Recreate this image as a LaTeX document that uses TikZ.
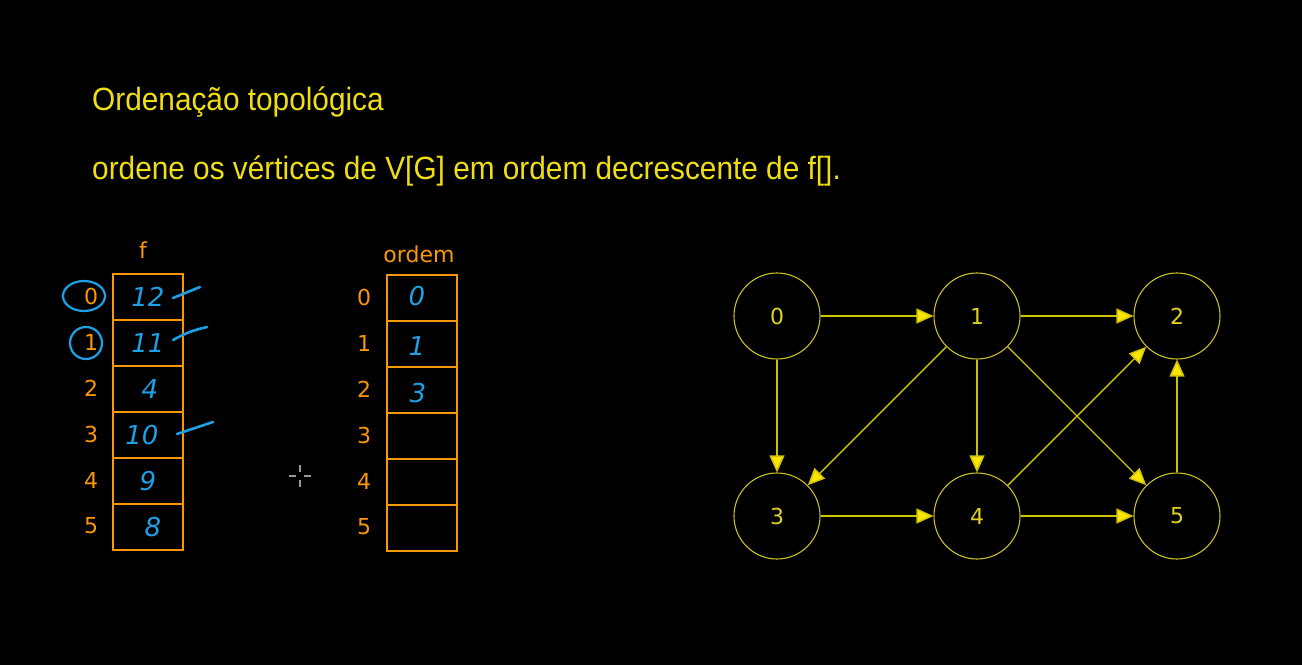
\documentclass[tikz,border=0pt]{standalone}
\usepackage{fontspec}
\setmainfont{Liberation Sans}
\newfontfamily\djv{DejaVu Sans}
\usetikzlibrary{arrows.meta}
\definecolor{titley}{RGB}{240,222,20}
\definecolor{orng}{RGB}{250,150,10}
\definecolor{pen}{RGB}{30,160,230}
\definecolor{gline}{RGB}{205,195,10}
\definecolor{gcirc}{RGB}{200,190,40}
\definecolor{gtip}{RGB}{250,228,0}
\definecolor{gtext}{RGB}{225,210,30}
\newcommand{\tallline}[1]{\scalebox{1}[1.08]{#1}}
\begin{document}
\begin{tikzpicture}[x=1pt,y=-1pt,
  title/.style={anchor=base west,text=titley,font=\fontsize{29.8}{30}\selectfont,inner sep=0},
  cell/.style={draw=orng,line width=1.6pt,minimum width=70pt,minimum height=46pt,inner sep=0,anchor=north west},
  idx/.style={text=orng,font=\djv\fontsize{22}{22}\selectfont,inner sep=0},
  hand/.style={text=pen,font=\djv\itshape\fontsize{26}{26}\selectfont,inner sep=0},
  stroke/.style={draw=pen,line width=2.6pt,line cap=round},
  vert/.style={circle,draw=gcirc,line width=1.1pt,minimum size=86pt,inner sep=0,text=gtext,font=\djv\fontsize{22}{22}\selectfont},
  edge/.style={draw=gline,line width=1.4pt,-{Triangle[length=17pt,width=15pt,fill=gtip]}},
  cursor/.style={draw=gray!80,line width=1.5pt}]
\fill[black] (0,0) rectangle (1302,665);
\useasboundingbox (0,0) rectangle (1302,665);

% heading lines
\node[title] (h1) at (92,110) {\tallline{Ordenação topológica}};
\node[title] (h2) at (92,179) {\tallline{ordene os vértices de V[G] em ordem decrescente de f[].}};

% array f
\node[idx] (flabel) at (143,250) {f};
\foreach \i/\v/\dx in {0/12/0,1/11/0,2/4/2,3/10/-6,4/9/0,5/8/5}{
  \node[cell] (f\i) at (112,{273+46*\i}) {};
  \node[idx] (fi\i) at (91,{296+46*\i}) {\i};
  \node[hand] (fv\i) at ([xshift=\dx pt]f\i.center) {\v};
}
% marks beside the processed entries
\draw[stroke] (173,298) -- (200,287);
\draw[stroke] (173,340) to[bend left=8] (207,327);
\draw[stroke] (177,434) -- (213,422);
\draw[pen,line width=2.2pt] (84,296) ellipse [x radius=21pt,y radius=15pt];
\draw[pen,line width=2.2pt] (86,343) circle [radius=16pt];

% array ordem
\node[idx] (olabel) at (419,254) {ordem};
\foreach \i in {0,...,5}{
  \node[cell] (o\i) at (386,{274+46*\i}) {};
  \node[idx] (oi\i) at (364,{297+46*\i}) {\i};
}
\node[hand] (ov0) at (417,296) {0};
\node[hand] (ov1) at (417,346) {1};
\node[hand] (ov2) at (418,393) {3};

% mouse pointer
\draw[cursor] (289,476) -- (296,476) (304,476) -- (311,476)
              (300,465) -- (300,472) (300,480) -- (300,487);

% graph
\node[vert] (n0) at (777,316) {0};
\node[vert] (n1) at (977,316) {1};
\node[vert] (n2) at (1177,316) {2};
\node[vert] (n3) at (777,516) {3};
\node[vert] (n4) at (977,516) {4};
\node[vert] (n5) at (1177,516) {5};
\draw[edge] (n0) -- (n1);
\draw[edge] (n1) -- (n2);
\draw[edge] (n0) -- (n3);
\draw[edge] (n1) -- (n3);
\draw[edge] (n1) -- (n4);
\draw[edge] (n1) -- (n5);
\draw[edge] (n3) -- (n4);
\draw[edge] (n4) -- (n5);
\draw[edge] (n4) -- (n2);
\draw[edge] (n5) -- (n2);
\end{tikzpicture}
\end{document}
